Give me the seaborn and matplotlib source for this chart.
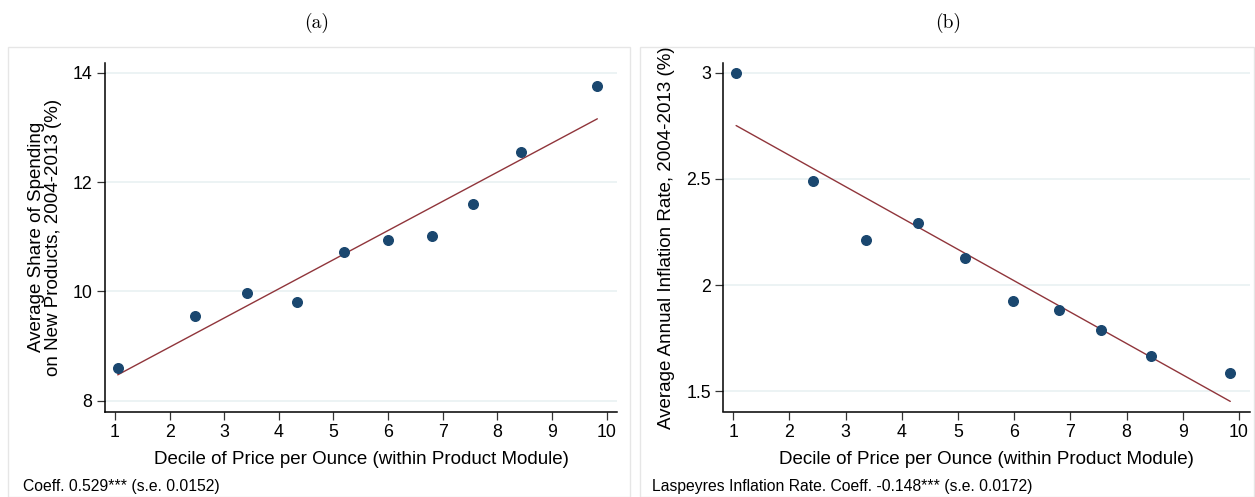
import numpy as np
import pandas as pd
import matplotlib
matplotlib.use("Agg")
import matplotlib.pyplot as plt
import seaborn as sns
from matplotlib.patches import Rectangle

# Decile positions (average decile within each bin) and outcomes
decile_a = [1.05, 2.46, 3.42, 4.33, 5.19, 6.00, 6.80, 7.55, 8.43, 9.83]
share_new = [8.59, 9.55, 9.97, 9.81, 10.72, 10.94, 11.01, 11.60, 12.55, 13.76]

decile_b = [1.05, 2.42, 3.37, 4.29, 5.13, 5.97, 6.79, 7.54, 8.44, 9.845]
inflation = [3.00, 2.49, 2.21, 2.29, 2.125, 1.925, 1.88, 1.79, 1.665, 1.585]

xticks = list(range(1, 11))
yticks_a = [8, 10, 12, 14]
yticks_b = [1.5, 2, 2.5, 3]
ytick_labels_b = ["1.5", "2", "2.5", "3"]

xlabel = "Decile of Price per Ounce (within Product Module)"
ylabel_a = "Average Share of Spending\non New Products, 2004-2013 (%)"
ylabel_b = "Average Annual Inflation Rate, 2004-2013 (%)"
note_a = "Coeff. 0.529*** (s.e. 0.0152)"
note_b = "Laspeyres Inflation Rate. Coeff. -0.148*** (s.e. 0.0172)"

df_a = pd.DataFrame({"decile": decile_a, "value": share_new})
df_b = pd.DataFrame({"decile": decile_b, "value": inflation})

sns.set_theme(style="white")
plt.rcParams["font.family"] = ["Liberation Sans", "DejaVu Sans"]
plt.rcParams["text.color"] = "black"
plt.rcParams["axes.labelcolor"] = "black"
plt.rcParams["xtick.color"] = "black"
plt.rcParams["ytick.color"] = "black"

NAVY = "#1a476f"
MAROON = "#90353b"
GRID = "#eaf2f3"

W, H = 1255, 497
fig = plt.figure(figsize=(W / 100, H / 100), dpi=100)
ax_a = fig.add_axes([105 / W, 1 - 411.5 / H, (617 - 105) / W, (411.5 - 63) / H])
ax_b = fig.add_axes([723.3 / W, 1 - 411.5 / H, (1250 - 723.3) / W, (411.5 - 63) / H])


def draw_panel(ax, df, yticks, ylim, xlim, ylabel, yticklabels=None):
    for y in yticks:
        ax.axhline(y, color=GRID, lw=1.3, zorder=0)
    sns.regplot(data=df, x="decile", y="value", ax=ax, ci=None,
                scatter_kws=dict(s=48, color=NAVY, edgecolor=NAVY,
                                 alpha=1.0, zorder=3),
                line_kws=dict(color=MAROON, lw=1.0, zorder=2))
    ax.set_xlim(*xlim)
    ax.set_ylim(*ylim)
    ax.set_xticks(xticks)
    ax.set_yticks(yticks)
    if yticklabels is not None:
        ax.set_yticklabels(yticklabels)
    ax.set_xlabel(xlabel, fontsize=13.5, labelpad=7)
    ax.set_ylabel(ylabel, fontsize=13.5, labelpad=8, linespacing=1.0)
    ax.tick_params(axis="both", direction="out", length=6, width=0.9,
                   color="#333333", labelsize=12.8, pad=3,
                   bottom=True, left=True)
    for side in ["top", "right"]:
        ax.spines[side].set_visible(False)
    for side in ["left", "bottom"]:
        ax.spines[side].set_color("black")
        ax.spines[side].set_linewidth(1.1)
    ax.grid(False)


draw_panel(ax_a, df_a, yticks_a, (7.80, 14.18), (0.817, 10.19), ylabel_a)
draw_panel(ax_b, df_b, yticks_b, (1.404, 3.046), (0.822, 10.196), ylabel_b,
           ytick_labels_b)

# Panel frames
fig.patches.append(Rectangle((8 / W, 0), 622 / W, 1 - 47 / H,
                             transform=fig.transFigure, fill=False,
                             edgecolor="#e6e6e6", lw=1.0))
fig.patches.append(Rectangle((640 / W, 0), 614 / W, 1 - 47 / H,
                             transform=fig.transFigure, fill=False,
                             edgecolor="#e6e6e6", lw=1.0))

# Panel titles
fig.text(317 / W, 1 - 23 / H, "(a)", ha="center", va="center",
         family="cmr10", fontsize=14)
fig.text(948 / W, 1 - 23 / H, "(b)", ha="center", va="center",
         family="cmr10", fontsize=14)

# Notes under each panel
fig.text(23 / W, 1 - 487 / H, note_a, ha="left", va="center", fontsize=11.3)
fig.text(652 / W, 1 - 487 / H, note_b, ha="left", va="center", fontsize=11.3)

fig.savefig("out.png", dpi=100)
